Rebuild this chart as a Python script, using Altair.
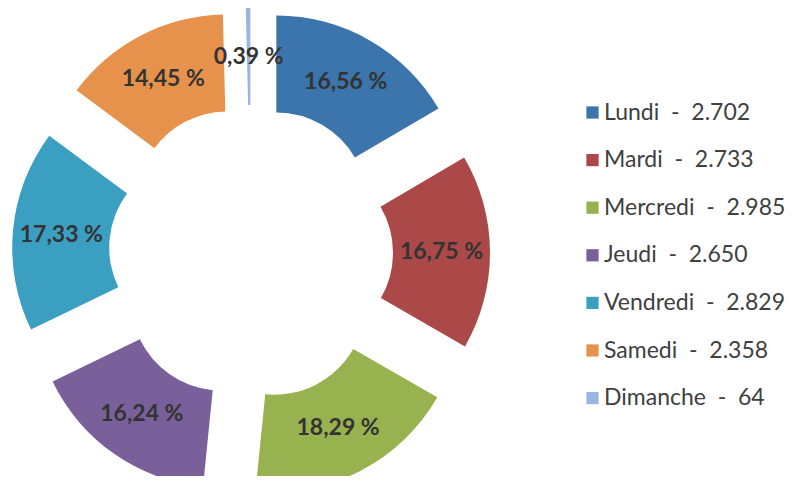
import altair as alt
import pandas as pd

days = ["Lundi", "Mardi", "Mercredi", "Jeudi", "Vendredi", "Samedi", "Dimanche"]
counts = [2702, 2733, 2985, 2650, 2829, 2358, 64]
colors = ["#3c74ac", "#ab4848", "#98b24f", "#7a609a", "#3b9fc2", "#e6924c", "#9ab6e0"]

def fmt_thousands(v):
    return f"{v:,}".replace(",", ".")

SEP = "\u00a0\u00a0-\u00a0\u00a0"
labels = [f"{d}{SEP}{fmt_thousands(v)}" for d, v in zip(days, counts)]
df = pd.DataFrame({"day": days, "value": counts, "label": labels, "idx": list(range(len(days)))})

CX, CY = 243, 245      # donut centre (chart coords)
EX, EY = 51, 57        # explosion distance (scan is slightly taller than wide)
R_IN, R_OUT = 91, 188
R_LAB = (R_IN + R_OUT) / 2

base = alt.Chart(df).transform_joinaggregate(
    total="sum(value)"
).transform_window(
    cum="sum(value)", sort=[alt.SortField("idx")], frame=[None, 0]
).transform_calculate(
    mid="2*PI*(datum.cum - datum.value/2)/datum.total",
).transform_calculate(
    px=f"{CX} + {EX}*sin(datum.mid)",
    py=f"{CY} - {EY}*cos(datum.mid)",
    lx=f"{CX} + {EX + R_LAB}*sin(datum.mid)",
    ly=f"{CY} - {EY + R_LAB}*cos(datum.mid)",
    pct="replace(format(100*datum.value/datum.total, '.2f'), '.', ',') + ' %'",
)

arcs = base.mark_arc(innerRadius=R_IN, outerRadius=R_OUT).encode(
    theta=alt.Theta("value:Q", stack=True),
    order=alt.Order("idx:Q", sort="ascending"),
    x=alt.X("px:Q", scale=None),
    y=alt.Y("py:Q", scale=None),
    color=alt.Color(
        "label:N",
        scale=alt.Scale(domain=labels, range=colors),
        sort=labels,
        legend=alt.Legend(
            title=None,
            orient="none",
            legendX=573,
            legendY=93,
            symbolType="square",
            symbolSize=150,
            symbolStrokeWidth=0,
            labelFont="Lato",
            labelFontSize=23,
            labelColor="#404040",
            labelOffset=0,
            rowPadding=23.6,
            labelLimit=300,
        ),
    ),
)

text = base.mark_text(
    font="Lato", fontWeight="bold", fontSize=23, color="#333333", align="center", baseline="middle"
).encode(
    x=alt.X("lx:Q", scale=None),
    y=alt.Y("ly:Q", scale=None),
    text="pct:N",
)

chart = alt.layer(arcs, text).properties(
    width=786, height=468, padding=0, autosize="none"
).configure_view(stroke=None)

chart.save("out.html", embed_options={"renderer": "svg", "actions": False})
